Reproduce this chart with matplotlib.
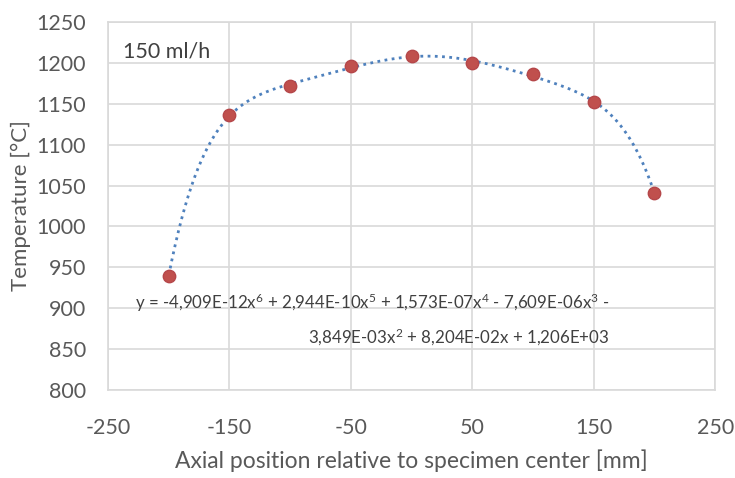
import numpy as np
import matplotlib
matplotlib.use("Agg")
import matplotlib.pyplot as plt

positions = [-200, -150, -100, -50, 0, 50, 100, 150, 200]
temperatures = [940, 1136, 1172, 1196, 1208, 1200, 1186, 1152, 1041]
x_ticks = [-250, -150, -50, 50, 150, 250]
y_ticks = [800, 850, 900, 950, 1000, 1050, 1100, 1150, 1200, 1250]
label_text = "150 ml/h"
equation = ("y = -4,909E-12x$^6$ + 2,944E-10x$^5$ + 1,573E-07x$^4$ - 7,609E-06x$^3$ -\n"
            "3,849E-03x$^2$ + 8,204E-02x + 1,206E+03")

plt.rcParams['font.family'] = ['Lato', 'DejaVu Sans']
plt.rcParams['axes.unicode_minus'] = False
plt.rcParams['mathtext.fontset'] = 'custom'
plt.rcParams['mathtext.rm'] = 'Lato'
plt.rcParams['mathtext.it'] = 'Lato'
plt.rcParams['mathtext.default'] = 'regular'
txt = '#595959'
grid = '#D9D9D9'

fig = plt.figure(figsize=(7.35, 4.78), dpi=100)
ax = fig.add_axes([0.147, 0.184, 0.826, 0.770])

coef = np.polyfit(positions, temperatures, 6)
xs = np.linspace(min(positions), max(positions), 300)
ax.plot(xs, np.polyval(coef, xs), linestyle=(0, (1, 1.6)), color='#4F81BD', lw=2.0, zorder=2)
ax.scatter(positions, temperatures, s=80, color='#C0504D', edgecolors='#B5474A', zorder=3)

ax.set_xlim(-250, 250)
ax.set_ylim(800, 1250)
ax.set_xticks(x_ticks)
ax.set_yticks(y_ticks)
ax.grid(True, color=grid, lw=1.2)
ax.set_axisbelow(True)
for s in ax.spines.values():
    s.set_color(grid)
    s.set_linewidth(1.2)
ax.tick_params(length=0, labelsize=15.5, colors=txt)
ax.tick_params(axis='y', pad=16)
ax.tick_params(axis='x', pad=20)
ax.set_xlabel("Axial position relative to specimen center [mm]", fontsize=16.5, color=txt, labelpad=8)
ax.set_ylabel("Temperature [°C]", fontsize=16, color=txt, labelpad=4)

ax.text(0.025, 0.92, label_text, transform=ax.transAxes, fontsize=15.5, color='#404040',
        ha='left', va='center')
ax.text(0.826, 0.19, equation, transform=ax.transAxes, fontsize=12.2, color='#404040',
        ha='right', va='center', multialignment='right', linespacing=1.75)

fig.savefig("out.png", dpi=100)
